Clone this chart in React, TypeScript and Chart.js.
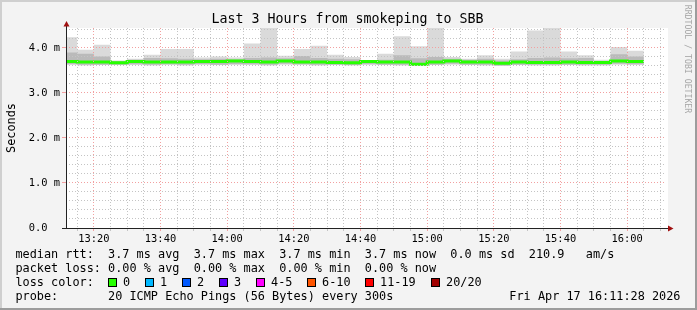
import React, { useEffect, useRef } from 'react';
import { Chart, registerables } from 'chart.js';

Chart.register(...registerables);

const W = 697;
const H = 310;

const titleText = 'Last 3 Hours from smokeping to SBB';
const yAxisTitle = 'Seconds';
const watermark = 'RRDTOOL / TOBI OETIKER';

// 5-minute slots (start times)
const slotStarts = [
  '13:10', '13:15', '13:20', '13:25', '13:30', '13:35', '13:40', '13:45', '13:50', '13:55',
  '14:00', '14:05', '14:10', '14:15', '14:20', '14:25', '14:30', '14:35', '14:40', '14:45',
  '14:50', '14:55', '15:00', '15:05', '15:10', '15:15', '15:20', '15:25', '15:30', '15:35',
  '15:40', '15:45', '15:50', '15:55', '16:00',
];
const slotEnd = '16:05';
const viewStart = '13:11:39';
const viewEnd = '16:11:39';

// values in ms
const maxVals = [
  4.24, 3.96, 4.07, 3.72, 3.76, 3.85, 3.98, 3.98, 3.79, 3.81,
  3.79, 4.10, 4.62, 3.83, 3.98, 4.05, 3.85, 3.80, 3.73, 3.87,
  4.26, 4.04, 4.58, 3.80, 3.76, 3.84, 3.76, 3.92, 4.39, 4.55,
  3.92, 3.84, 3.74, 4.02, 3.94,
];
const q3Vals = [
  3.90, 3.87, 3.81, 3.71, 3.74, 3.78, 3.77, 3.76, 3.75, 3.76,
  3.75, 3.78, 3.79, 3.77, 3.82, 3.78, 3.76, 3.75, 3.72, 3.74,
  3.84, 3.77, 3.80, 3.76, 3.74, 3.76, 3.72, 3.75, 3.78, 3.79,
  3.77, 3.78, 3.71, 3.86, 3.81,
];
const medVals = [
  3.70, 3.69, 3.69, 3.67, 3.70, 3.69, 3.69, 3.69, 3.70, 3.70,
  3.71, 3.70, 3.69, 3.71, 3.69, 3.69, 3.68, 3.67, 3.70, 3.69,
  3.69, 3.64, 3.69, 3.71, 3.69, 3.69, 3.66, 3.69, 3.68, 3.68,
  3.69, 3.68, 3.68, 3.71, 3.70,
];
const q1Vals = [
  3.64, 3.63, 3.63, 3.63, 3.64, 3.63, 3.64, 3.63, 3.64, 3.63,
  3.64, 3.64, 3.63, 3.65, 3.64, 3.63, 3.63, 3.62, 3.64, 3.63,
  3.63, 3.60, 3.63, 3.65, 3.63, 3.63, 3.61, 3.63, 3.63, 3.63,
  3.63, 3.63, 3.63, 3.65, 3.64,
];
const minVals = [
  3.63, 3.61, 3.62, 3.63, 3.62, 3.61, 3.62, 3.61, 3.63, 3.62,
  3.63, 3.62, 3.61, 3.63, 3.62, 3.61, 3.62, 3.61, 3.63, 3.62,
  3.61, 3.60, 3.62, 3.63, 3.62, 3.61, 3.60, 3.62, 3.61, 3.61,
  3.62, 3.61, 3.61, 3.63, 3.62,
];

const xTickLabels = ['13:20', '13:40', '14:00', '14:20', '14:40', '15:00', '15:20', '15:40', '16:00'];
const yTickValues = [0, 1, 2, 3, 4];
const yTickLabels = ['0.0  ', '1.0 m', '2.0 m', '3.0 m', '4.0 m'];
const yMin = 0;
const yMax = 4.444;
const yStep = 0.2;
const xStep = 5;

const rttLine = 'median rtt:  3.7 ms avg  3.7 ms max  3.7 ms min  3.7 ms now  0.0 ms sd  210.9   am/s';
const lossLine = 'packet loss: 0.00 % avg  0.00 % max  0.00 % min  0.00 % now';
const lossColorLabel = 'loss color:';
const lossLabels = ['0', '1', '2', '3', '4-5', '6-10', '11-19', '20/20'];
const lossColors = ['#26ff00', '#00b8ff', '#0059ff', '#5e00ff', '#ff00ff', '#ff5500', '#ff0000', '#a10000'];
const probeLine = 'probe:       20 ICMP Echo Pings (56 Bytes) every 300s';
const dateText = 'Fri Apr 17 16:11:28 2026';

const MONO = '"DejaVu Sans Mono", monospace';

const toMin = (s: string) => {
  const p = s.split(':').map(Number);
  return (p[0] - 13) * 60 + p[1] + (p[2] || 0) / 60;
};

const toStep = (vals: number[]) => {
  const pts = slotStarts.map((s, i) => ({ x: toMin(s), y: vals[i] }));
  pts.push({ x: toMin(slotEnd), y: vals[vals.length - 1] });
  return pts;
};

const MAJOR = '#f2a0a0';
const MINOR = '#c4c4c4';

export default function App() {
  const ref = useRef<HTMLCanvasElement>(null);

  useEffect(() => {
    const canvas = ref.current;
    if (!canvas) return;

    const xLabelMap: Record<string, string> = {};
    xTickLabels.forEach((l) => {
      xLabelMap[String(Math.round(toMin(l)))] = l;
    });
    const isMult = (v: number, s: number) => Math.abs(v / s - Math.round(v / s)) < 1e-6;

    const xMin = toMin(viewStart);
    const xMax = toMin(viewEnd);
    const xTicks: number[] = [];
    for (let k = Math.ceil(xMin / xStep); k * xStep <= xMax; k++) xTicks.push(k * xStep);
    const yTicks: number[] = [];
    for (let k = 0; k * yStep <= yMax + 1e-9; k++) yTicks.push(Math.round(k * yStep * 10) / 10);

    const framePlugin = {
      id: 'frame',
      beforeDraw(chart: any) {
        const { ctx, chartArea: a } = chart;
        ctx.save();
        ctx.fillStyle = '#f3f3f3';
        ctx.fillRect(0, 0, W, H);
        ctx.fillStyle = '#cfcfcf';
        ctx.fillRect(0, 0, W, 2);
        ctx.fillRect(0, 0, 2, H);
        ctx.fillStyle = '#9c9c9c';
        ctx.fillRect(0, H - 2, W, 2);
        ctx.fillRect(W - 2, 0, 2, H);
        ctx.fillStyle = '#ffffff';
        ctx.fillRect(a.left, a.top, a.right - a.left + 2, a.bottom - a.top);
        ctx.restore();
      },
      afterDraw(chart: any) {
        const { ctx, chartArea: a } = chart;
        ctx.save();
        ctx.strokeStyle = '#222';
        ctx.lineWidth = 1;
        ctx.beginPath();
        ctx.moveTo(a.left + 0.5, a.bottom + 1);
        ctx.lineTo(a.left + 0.5, a.top - 2);
        ctx.moveTo(a.left - 4, a.bottom + 0.5);
        ctx.lineTo(a.right + 2, a.bottom + 0.5);
        ctx.stroke();
        ctx.fillStyle = '#a01010';
        ctx.beginPath();
        ctx.moveTo(a.left + 0.5, a.top - 7);
        ctx.lineTo(a.left - 2.5, a.top - 1.5);
        ctx.lineTo(a.left + 3.5, a.top - 1.5);
        ctx.closePath();
        ctx.fill();
        ctx.beginPath();
        ctx.moveTo(a.right + 7.5, a.bottom + 0.5);
        ctx.lineTo(a.right + 2, a.bottom - 2.5);
        ctx.lineTo(a.right + 2, a.bottom + 3.5);
        ctx.closePath();
        ctx.fill();
        ctx.restore();
      },
    };

    const lineBase = {
      stepped: 'before' as const,
      pointRadius: 0,
      pointHoverRadius: 0,
      tension: 0,
      clip: 0,
    };

    const chart = new Chart(canvas, {
      type: 'line',
      data: {
        datasets: [
          {
            ...lineBase,
            label: 'median rtt',
            data: toStep(medVals),
            borderColor: '#26ff00',
            borderWidth: 3,
            fill: false,
          },
          {
            ...lineBase,
            label: 'q3',
            data: toStep(q3Vals),
            borderColor: 'rgba(0,0,0,0)',
            borderWidth: 1,
            backgroundColor: '#bababa',
            fill: 2,
          },
          {
            ...lineBase,
            label: 'q1',
            data: toStep(q1Vals),
            borderColor: 'rgba(0,0,0,0)',
            borderWidth: 1,
            fill: false,
          },
          {
            ...lineBase,
            label: 'max',
            data: toStep(maxVals),
            borderColor: 'rgba(0,0,0,0)',
            borderWidth: 1,
            backgroundColor: '#dadada',
            fill: 4,
          },
          {
            ...lineBase,
            label: 'min',
            data: toStep(minVals),
            borderColor: 'rgba(0,0,0,0)',
            borderWidth: 1,
            fill: false,
          },
        ],
      } as any,
      options: {
        responsive: false,
        animation: false,
        devicePixelRatio: 1,
        events: [],
        layout: { padding: { left: 0, top: 28, right: 31, bottom: 60 } },
        plugins: {
          legend: { display: false },
          tooltip: { enabled: false },
          title: { display: false },
        },
        scales: {
          x: {
            type: 'linear',
            min: xMin,
            max: xMax,
            afterBuildTicks: (s: any) => {
              s.ticks = xTicks.map((v) => ({ value: v }));
            },
            afterFit: (s: any) => {
              s.height = 22;
            },
            ticks: {
              autoSkip: false,
              maxRotation: 0,
              minRotation: 0,
              padding: 2,
              color: '#000',
              font: { family: MONO, size: 10.4 },
              callback: (v: any) => xLabelMap[String(Math.round(v))] ?? '',
            },
            grid: {
              z: 1,
              lineWidth: 1,
              tickLength: 3,
              color: (c: any) => {
                const v = c.tick?.value;
                if (v == null) return 'rgba(0,0,0,0)';
                return isMult(v, 20) ? MAJOR : MINOR;
              },
              tickColor: (c: any) => {
                const v = c.tick?.value;
                if (v == null) return 'rgba(0,0,0,0)';
                return isMult(v, 20) ? MAJOR : MINOR;
              },
            },
            border: { display: false, dash: [1, 2] },
          },
          y: {
            type: 'linear',
            min: yMin,
            max: yMax,
            afterBuildTicks: (s: any) => {
              s.ticks = yTicks.map((v) => ({ value: v }));
            },
            afterFit: (s: any) => {
              s.width = 66;
            },
            ticks: {
              autoSkip: false,
              padding: 2,
              color: '#000',
              font: { family: MONO, size: 10.4 },
              callback: (v: any) => {
                const i = yTickValues.findIndex((t) => Math.abs(t - v) < 1e-6);
                return i >= 0 ? yTickLabels[i] : '';
              },
            },
            grid: {
              z: 1,
              lineWidth: 1,
              tickLength: 4,
              color: (c: any) => {
                const v = c.tick?.value;
                if (v == null) return 'rgba(0,0,0,0)';
                return isMult(v, 1) ? MAJOR : MINOR;
              },
              tickColor: (c: any) => {
                const v = c.tick?.value;
                if (v == null || !isMult(v, 1)) return 'rgba(0,0,0,0)';
                return MAJOR;
              },
            },
            border: { display: false, dash: [1, 2] },
          },
        },
      } as any,
      plugins: [framePlugin],
    });

    return () => chart.destroy();
  }, []);

  const boxPositions: number[] = [];
  let bx = 108.3;
  lossLabels.forEach((l) => {
    boxPositions.push(bx);
    bx += 29.8 + l.length * 7.12;
  });

  const legendFont = { fontFamily: MONO, fontSize: '11.85px', lineHeight: '14px', whiteSpace: 'pre' as const, color: '#000' };

  return (
    <div
      style={{
        position: 'absolute',
        left: 0,
        top: 0,
        width: W,
        height: H,
        overflow: 'hidden',
        background: '#f3f3f3',
      }}
    >
      <canvas ref={ref} width={W} height={H} style={{ position: 'absolute', left: 0, top: 0, width: W, height: H }} />
      <div
        style={{
          position: 'absolute',
          left: -1,
          top: 11,
          width: W,
          textAlign: 'center',
          fontFamily: MONO,
          fontSize: '13.3px',
          lineHeight: '16px',
          whiteSpace: 'pre',
          color: '#000',
        }}
      >
        {titleText}
      </div>
      <div
        style={{
          position: 'absolute',
          left: -29.3,
          top: 120.5,
          width: 80,
          height: 14,
          textAlign: 'center',
          transform: 'rotate(-90deg)',
          ...legendFont,
        }}
      >
        {yAxisTitle}
      </div>
      <div
        style={{
          position: 'absolute',
          left: 687.5 - 60,
          top: 59 - 5,
          width: 120,
          height: 10,
          textAlign: 'center',
          transform: 'rotate(90deg)',
          fontFamily: MONO,
          fontSize: '8.2px',
          lineHeight: '10px',
          whiteSpace: 'pre',
          color: '#a6a6a6',
        }}
      >
        {watermark}
      </div>
      <div style={{ position: 'absolute', left: 15.4, top: 247, ...legendFont }}>{rttLine}</div>
      <div style={{ position: 'absolute', left: 15.4, top: 261, ...legendFont }}>{lossLine}</div>
      <div style={{ position: 'absolute', left: 15.4, top: 275, ...legendFont }}>{lossColorLabel}</div>
      {lossLabels.map((l, i) => (
        <React.Fragment key={l}>
          <div
            style={{
              position: 'absolute',
              left: Math.round(boxPositions[i]),
              top: 278,
              width: 9,
              height: 9,
              boxSizing: 'border-box',
              border: '1px solid #000',
              background: lossColors[i],
            }}
          />
          <div style={{ position: 'absolute', left: Math.round(boxPositions[i]) + 15, top: 275, ...legendFont }}>{l}</div>
        </React.Fragment>
      ))}
      <div style={{ position: 'absolute', left: 15.4, top: 289, ...legendFont }}>{probeLine}</div>
      <div style={{ position: 'absolute', right: 16.5, top: 289, ...legendFont }}>{dateText}</div>
    </div>
  );
}
